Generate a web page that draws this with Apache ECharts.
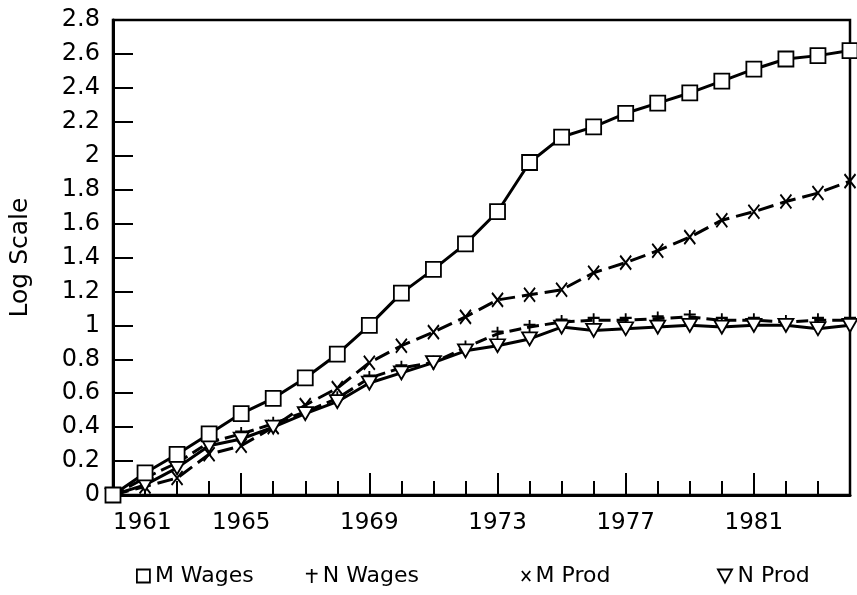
<!DOCTYPE html>
<html>
<head>
    <meta charset="UTF-8">
    <script src="https://cdn.jsdelivr.net/npm/echarts@6/dist/echarts.min.js"></script>
    <style>
        html, body { margin: 0; padding: 0; background: #fff; }
        #main { width: 857px; height: 595px; }
    </style>
</head>
<body>
<div id="main"></div>
<script type="text/javascript">
    var years = ['1961', '1962', '1963', '1964', '1965', '1966', '1967', '1968', '1969', '1970', '1971', '1972',
        '1973', '1974', '1975', '1976', '1977', '1978', '1979', '1980', '1981', '1982', '1983', '1984'];
    var mWages = [0, 0.13, 0.24, 0.36, 0.48, 0.57, 0.69, 0.83, 1.0, 1.19, 1.33, 1.48,
        1.67, 1.96, 2.11, 2.17, 2.25, 2.31, 2.37, 2.44, 2.51, 2.57, 2.59, 2.62];
    var nWages = [0, 0.10, 0.19, 0.31, 0.36, 0.42, 0.49, 0.57, 0.69, 0.75, 0.78, 0.87,
        0.95, 0.99, 1.02, 1.03, 1.03, 1.04, 1.05, 1.03, 1.03, 1.02, 1.03, 1.03];
    var mProd = [0, 0.05, 0.10, 0.24, 0.29, 0.40, 0.53, 0.63, 0.78, 0.88, 0.96, 1.05,
        1.15, 1.18, 1.21, 1.31, 1.37, 1.44, 1.52, 1.62, 1.67, 1.73, 1.78, 1.85];
    var nProd = [0, 0.06, 0.16, 0.29, 0.33, 0.40, 0.48, 0.55, 0.66, 0.72, 0.78, 0.85,
        0.88, 0.92, 0.99, 0.97, 0.98, 0.99, 1.0, 0.99, 1.0, 1.0, 0.98, 1.0];

    var FONT = 'DejaVu Sans';
    var plusPath = 'path://M5,0L5,12M0,4L10,4';
    var crossPath = 'path://M0,0L10,12M10,0L0,12';
    var triPath = 'path://M0,0L12,0L6,11Z';

    var myChart = echarts.init(document.getElementById('main'));

    function oneLegend(name, left, icon, w, h, fill) {
        return {
            data: [name],
            left: left,
            top: 565,
            padding: 0,
            icon: icon,
            itemWidth: w,
            itemHeight: h,
            selectedMode: false,
            itemStyle: {color: fill, borderColor: '#000', borderWidth: 1.8},
            textStyle: {fontFamily: FONT, fontSize: 22, color: '#000'}
        };
    }

    var option = {
        backgroundColor: '#fff',
        animation: false,
        grid: {
            left: 113, right: 7, top: 20, bottom: 100,
            show: true, borderColor: '#000', borderWidth: 2.5
        },
        legend: [
            oneLegend('M Wages', 136, 'rect', 13, 13, '#fff'),
            oneLegend('N Wages', 305, plusPath, 12, 14, '#000'),
            oneLegend('M Prod', 521, crossPath, 9, 10, '#000'),
            oneLegend('N Prod', 717, triPath, 15, 13, '#fff')
        ],
        xAxis: [
            {
                type: 'category',
                data: years,
                boundaryGap: false,
                position: 'bottom',
                axisLine: {lineStyle: {color: '#000', width: 3}},
                axisTick: {inside: true, length: 14, interval: 0, lineStyle: {color: '#000', width: 2}},
                axisLabel: {
                    interval: function (i) { return i % 4 === 0; },
                    alignMinLabel: 'left',
                    margin: 17,
                    fontFamily: FONT, fontSize: 23, color: '#000'
                },
                splitLine: {show: false}
            },
            {
                type: 'category',
                data: years,
                boundaryGap: false,
                position: 'bottom',
                axisLine: {show: false},
                axisTick: {
                    inside: true, length: 22,
                    interval: function (i) { return i % 4 === 0 && i > 0; },
                    lineStyle: {color: '#000', width: 2}
                },
                axisLabel: {show: false},
                splitLine: {show: false}
            }
        ],
        yAxis: {
            type: 'value',
            min: 0,
            max: 2.8,
            interval: 0.2,
            name: 'Log Scale',
            nameLocation: 'middle',
            nameGap: 80,
            nameTextStyle: {fontFamily: FONT, fontSize: 25, color: '#000'},
            axisLine: {show: true, lineStyle: {color: '#000', width: 3}},
            axisTick: {show: true, inside: true, length: 20, lineStyle: {color: '#000', width: 2}},
            axisLabel: {margin: 13, fontFamily: FONT, fontSize: 24, color: '#000'},
            splitLine: {show: false}
        },
        series: [
            {
                name: 'M Wages',
                type: 'line',
                data: mWages,
                symbol: 'rect',
                symbolSize: 15,
                color: '#000',
                lineStyle: {color: '#000', width: 3},
                itemStyle: {color: '#fff', borderColor: '#000', borderWidth: 1.8},
                z: 5
            },
            {
                name: 'N Wages',
                type: 'line',
                data: nWages,
                symbol: plusPath,
                symbolSize: [12, 14],
                color: '#000',
                lineStyle: {color: '#000', width: 3, type: [12, 6]},
                itemStyle: {color: '#000', borderColor: '#000', borderWidth: 2},
                z: 3
            },
            {
                name: 'M Prod',
                type: 'line',
                data: mProd,
                symbol: crossPath,
                symbolSize: [11, 14],
                color: '#000',
                lineStyle: {color: '#000', width: 3, type: [16, 7]},
                itemStyle: {color: '#000', borderColor: '#000', borderWidth: 2},
                z: 4
            },
            {
                name: 'N Prod',
                type: 'line',
                data: nProd,
                symbol: triPath,
                symbolSize: [15, 13],
                color: '#000',
                lineStyle: {color: '#000', width: 3},
                itemStyle: {color: '#fff', borderColor: '#000', borderWidth: 1.8},
                z: 4
            }
        ]
    };
    myChart.setOption(option);
</script>
</body>
</html>
